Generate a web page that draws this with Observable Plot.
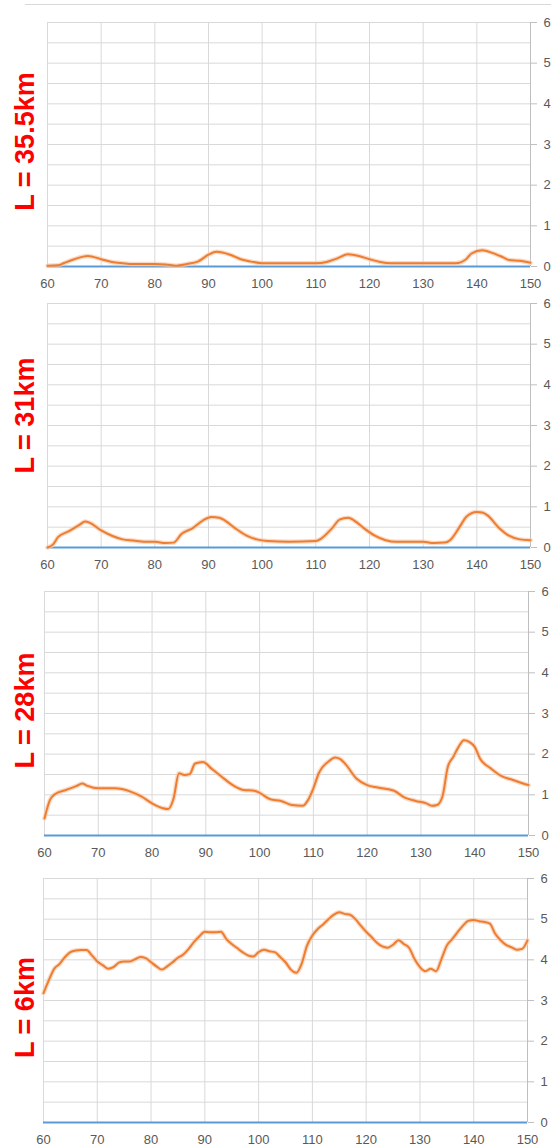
<!DOCTYPE html>
<html>
<head>
<meta charset="utf-8">
<script src="https://cdn.jsdelivr.net/npm/d3@7"></script>
<script src="https://cdn.jsdelivr.net/npm/@observablehq/plot@0.6"></script>
<style>
  html, body { margin: 0; padding: 0; background: #fff; }
  #wrap { position: relative; width: 551px; height: 1146px; overflow: hidden; background: #fff; }
  #topline { position: absolute; left: 25px; top: 4px; width: 526px; height: 1px; background: #d9d9d9; }
  .panel { position: absolute; left: 0; }
</style>
</head>
<body>
<div id="wrap"><div id="topline"></div></div>
<script>
// ---- Data ----
const labels = ["L = 35.5km", "L = 31km", "L = 28km", "L = 6km"];
const xTicks = [60, 70, 80, 90, 100, 110, 120, 130, 140, 150];
const yTicks = [0, 1, 2, 3, 4, 5, 6];

const x1 = [60,62,63,65,67.5,70,72,74,76,80,82,84,86,88,90,91.5,94,96,98,100,110,112,114,116,118,120,122,124,136,138,139,141,143,145,146,148,150];
const y1 = [0.02,0.03,0.08,0.18,0.26,0.18,0.11,0.08,0.06,0.06,0.05,0.02,0.06,0.12,0.29,0.36,0.29,0.18,0.12,0.08,0.08,0.11,0.2,0.3,0.26,0.18,0.11,0.08,0.08,0.18,0.32,0.4,0.33,0.22,0.16,0.14,0.09];

const x2 = [60,61,62,64,66,67,68,70,72,74,76,78,80,82,83.5,85,87,89,90.5,92,93,95,97,99,101,105,110,111,113,114.5,116,117.5,119,121,123,125,130,132,134,135,137,138,140,141,142,144,146,148,150];
const y2 = [0,0.07,0.26,0.4,0.56,0.64,0.6,0.42,0.29,0.2,0.17,0.14,0.14,0.11,0.12,0.34,0.47,0.67,0.75,0.73,0.67,0.47,0.3,0.2,0.16,0.14,0.16,0.22,0.47,0.69,0.73,0.63,0.47,0.29,0.18,0.14,0.14,0.11,0.12,0.18,0.55,0.75,0.87,0.86,0.79,0.5,0.29,0.2,0.18];

const x3 = [60,61,62,64,66,67,68,70,73,76,78,80,82,83,84,85,86,87,88,89.5,91,93,95,97,99,100,102,104,106,108,109,110,111,113,114,115,116,118,120,122,125,127,129,131,132,133,134,135,136,137,138,139,140,141,143,145,147,149,150];
const y3 = [0.42,0.87,1.02,1.12,1.22,1.28,1.22,1.16,1.16,1.08,0.96,0.79,0.67,0.65,0.91,1.53,1.49,1.51,1.77,1.81,1.65,1.44,1.24,1.12,1.1,1.05,0.89,0.85,0.75,0.73,0.87,1.16,1.53,1.84,1.92,1.88,1.75,1.4,1.24,1.18,1.1,0.93,0.85,0.79,0.73,0.75,0.96,1.69,1.93,2.18,2.34,2.3,2.18,1.89,1.65,1.46,1.37,1.28,1.24];

const x4 = [60,61,62,63,64,65,66,67,68,69,70,71,72,73,74,75,76,77,78,79,80,81,82,83,84,85,86,87,88,89,90,91,92,93,94,95,96,97,98,99,100,101,102,103,104,105,106,107,108,109,110,111,112,113,114,115,116,117,118,119,120,121,122,123,124,125,126,127,128,129,130,131,132,133,134,135,136,137,138,139,140,141,142,143,144,145,146,147,148,149,150];
const y4 = [3.18,3.5,3.78,3.9,4.07,4.19,4.23,4.24,4.24,4.11,3.96,3.87,3.78,3.82,3.93,3.96,3.96,4.01,4.07,4.04,3.94,3.84,3.76,3.84,3.94,4.05,4.13,4.27,4.44,4.58,4.69,4.68,4.68,4.69,4.51,4.39,4.29,4.19,4.11,4.08,4.19,4.25,4.21,4.19,4.07,3.94,3.76,3.68,3.9,4.35,4.6,4.76,4.87,5.0,5.11,5.17,5.13,5.11,5.0,4.84,4.69,4.56,4.42,4.33,4.3,4.37,4.48,4.39,4.29,4.02,3.82,3.72,3.78,3.72,4.02,4.35,4.51,4.68,4.84,4.96,4.98,4.95,4.93,4.89,4.64,4.48,4.37,4.31,4.25,4.27,4.48];

const seriesX = [x1, x2, x3, x4];
const seriesY = [y1, y2, y3, y4];

// ---- Layout ----
const layout = [
  {top: 12,  left: 47, right: 21, labelDy: -3},
  {top: 293, left: 47, right: 21, labelDy: -10},
  {top: 581, left: 44, right: 23, labelDy: -3},
  {top: 868, left: 43, right: 24, labelDy: 7}
];
const plotH = 244, mTop = 10, mBottom = 30;

const wrap = document.getElementById("wrap");
const gridY = d3.range(0, 6.001, 0.5);

labels.forEach((lab, i) => {
  const L = layout[i];
  const data = seriesX[i].map((x, j) => ({x, y: seriesY[i][j]}));
  const chart = Plot.plot({
    width: 551,
    height: mTop + plotH + mBottom,
    marginTop: mTop,
    marginBottom: mBottom,
    marginLeft: L.left,
    marginRight: L.right,
    style: {background: "transparent", fontFamily: "'Liberation Sans', Arial, sans-serif", overflow: "visible"},
    x: {domain: [60, 150], axis: null},
    y: {domain: [0, 6], axis: null},
    marks: [
      Plot.gridY(gridY, {stroke: "#d9d9d9", strokeOpacity: 1, strokeWidth: 1}),
      Plot.gridX(xTicks, {stroke: "#d9d9d9", strokeOpacity: 1, strokeWidth: 1}),
      Plot.axisX(xTicks, {tickSize: 0, tickPadding: 12, fontSize: 13, color: "#595959", tickFormat: d => String(d), label: null}),
      Plot.axisY(yTicks, {anchor: "right", tickSize: 6, tickPadding: 7, fontSize: 13, color: "#595959", stroke: "#bfbfbf", tickFormat: d => String(d), label: null}),
      Plot.ruleX([150], {stroke: "#bfbfbf"}),
      Plot.ruleY([0], {stroke: "#5B9BD5", strokeWidth: 2.2}),
      Plot.line(data, {x: "x", y: "y", stroke: "#F8CBAD", strokeWidth: 4.5, strokeOpacity: 0.7, curve: "monotone-x"}),
      Plot.line(data, {x: "x", y: "y", stroke: "#ED7D31", strokeWidth: 2, curve: "monotone-x"}),
      Plot.text([lab], {frameAnchor: "left", dx: -(L.left - 24.5), dy: L.labelDy, rotate: -90, textAnchor: "middle",
        fill: "#FF0000", fontSize: 27, fontWeight: "bold", fontFamily: "'Liberation Sans', Arial, sans-serif"})
    ]
  });
  chart.classList.add("panel");
  chart.style.top = L.top + "px";
  wrap.appendChild(chart);
});
</script>
</body>
</html>
